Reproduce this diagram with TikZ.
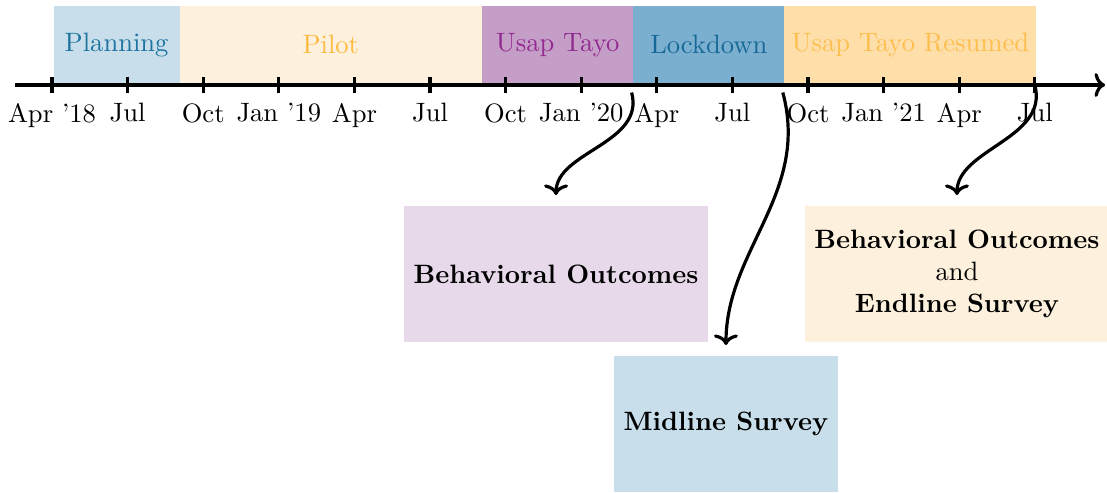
\documentclass[tikz,border=0pt]{standalone}
\usepackage{tikz}
\usetikzlibrary{positioning,arrows.meta}
\definecolor{planfill}{RGB}{200,223,235}
\definecolor{plantext}{RGB}{30,115,160}
\definecolor{pilotfill}{RGB}{253,241,221}
\definecolor{pilottext}{RGB}{253,186,62}
\definecolor{usapfill}{RGB}{197,158,200}
\definecolor{usaptext}{RGB}{146,42,144}
\definecolor{lockfill}{RGB}{123,175,208}
\definecolor{locktext}{RGB}{22,105,150}
\definecolor{resfill}{RGB}{254,223,170}
\definecolor{restext}{RGB}{253,190,78}
\definecolor{outfill}{RGB}{231,217,234}
\tikzstyle{phase}=[%
      rectangle, draw=none, anchor=south west, inner sep=0pt,
      minimum height=1.019cm
]
\tikzstyle{result}=[%
      rectangle, draw=none, align=center, font=\bfseries,
      minimum height=1.8cm, inner sep=3.5pt
]

\begin{document}
\begin{tikzpicture}[
    very thick,
    >={To[length=4pt,width=9pt]}
  ]
    \useasboundingbox (-0.688,-5.384) rectangle (13.955,1.124);

    % phases
    \node[phase, fill=planfill, text=plantext, minimum width=1.667cm]  (plan) at (0,0)     {Planning};
    \node[phase, fill=pilotfill, text=pilottext, minimum width=4cm]    (pilot) at (1.667,0) {Pilot};
    \node[phase, fill=usapfill, text=usaptext, minimum width=2cm]      (usap) at (5.667,0)  {Usap Tayo};
    \node[phase, fill=lockfill, text=locktext, minimum width=2cm]      (lock) at (7.667,0)  {Lockdown};
    \node[phase, fill=resfill, text=restext, minimum width=3.333cm]    (res) at (9.667,0)   {Usap Tayo Resumed};

    % axis
    \draw[->] (-0.49,0) -- (13.93,0);
    \foreach \x/\lab in {0/Apr '18, 1/Jul, 2/Oct, 3/Jan '19, 4/Apr, 5/Jul, 6/Oct,
                         7/Jan '20, 8/Apr, 9/Jul, 10/Oct, 11/Jan '21, 12/Apr, 13/Jul}{
      \coordinate (t\x) at (\x,-0.106);
      \draw (\x,0.106) -- (t\x);
      \node[below=0pt of t\x] (l\x) {\lab};
    }

    % results
    \node[result, fill=outfill]   (behav) at (6.667,-2.5)  {Behavioral Outcomes};
    \node[result, fill=planfill]  (mid)   at (8.915,-4.484) {Midline Survey};
    \node[result, fill=pilotfill] (end)   at (11.97,-2.5)  {Behavioral Outcomes\\\mdseries and\\Endline Survey};

    \coordinate (s1) at (7.667,-0.1);
    \coordinate (s2) at (9.667,-0.1);
    \coordinate (s3) at (13,0);
    \draw[->, shorten >=3.5pt] (s1) to[out=-75, in=90] (behav);
    \draw[->, shorten >=3.5pt] (s2) to[out=-75, in=90] (mid);
    \draw[->, shorten >=3.5pt] (s3) to[out=-75, in=90] (end);
  \end{tikzpicture}
\end{document}
